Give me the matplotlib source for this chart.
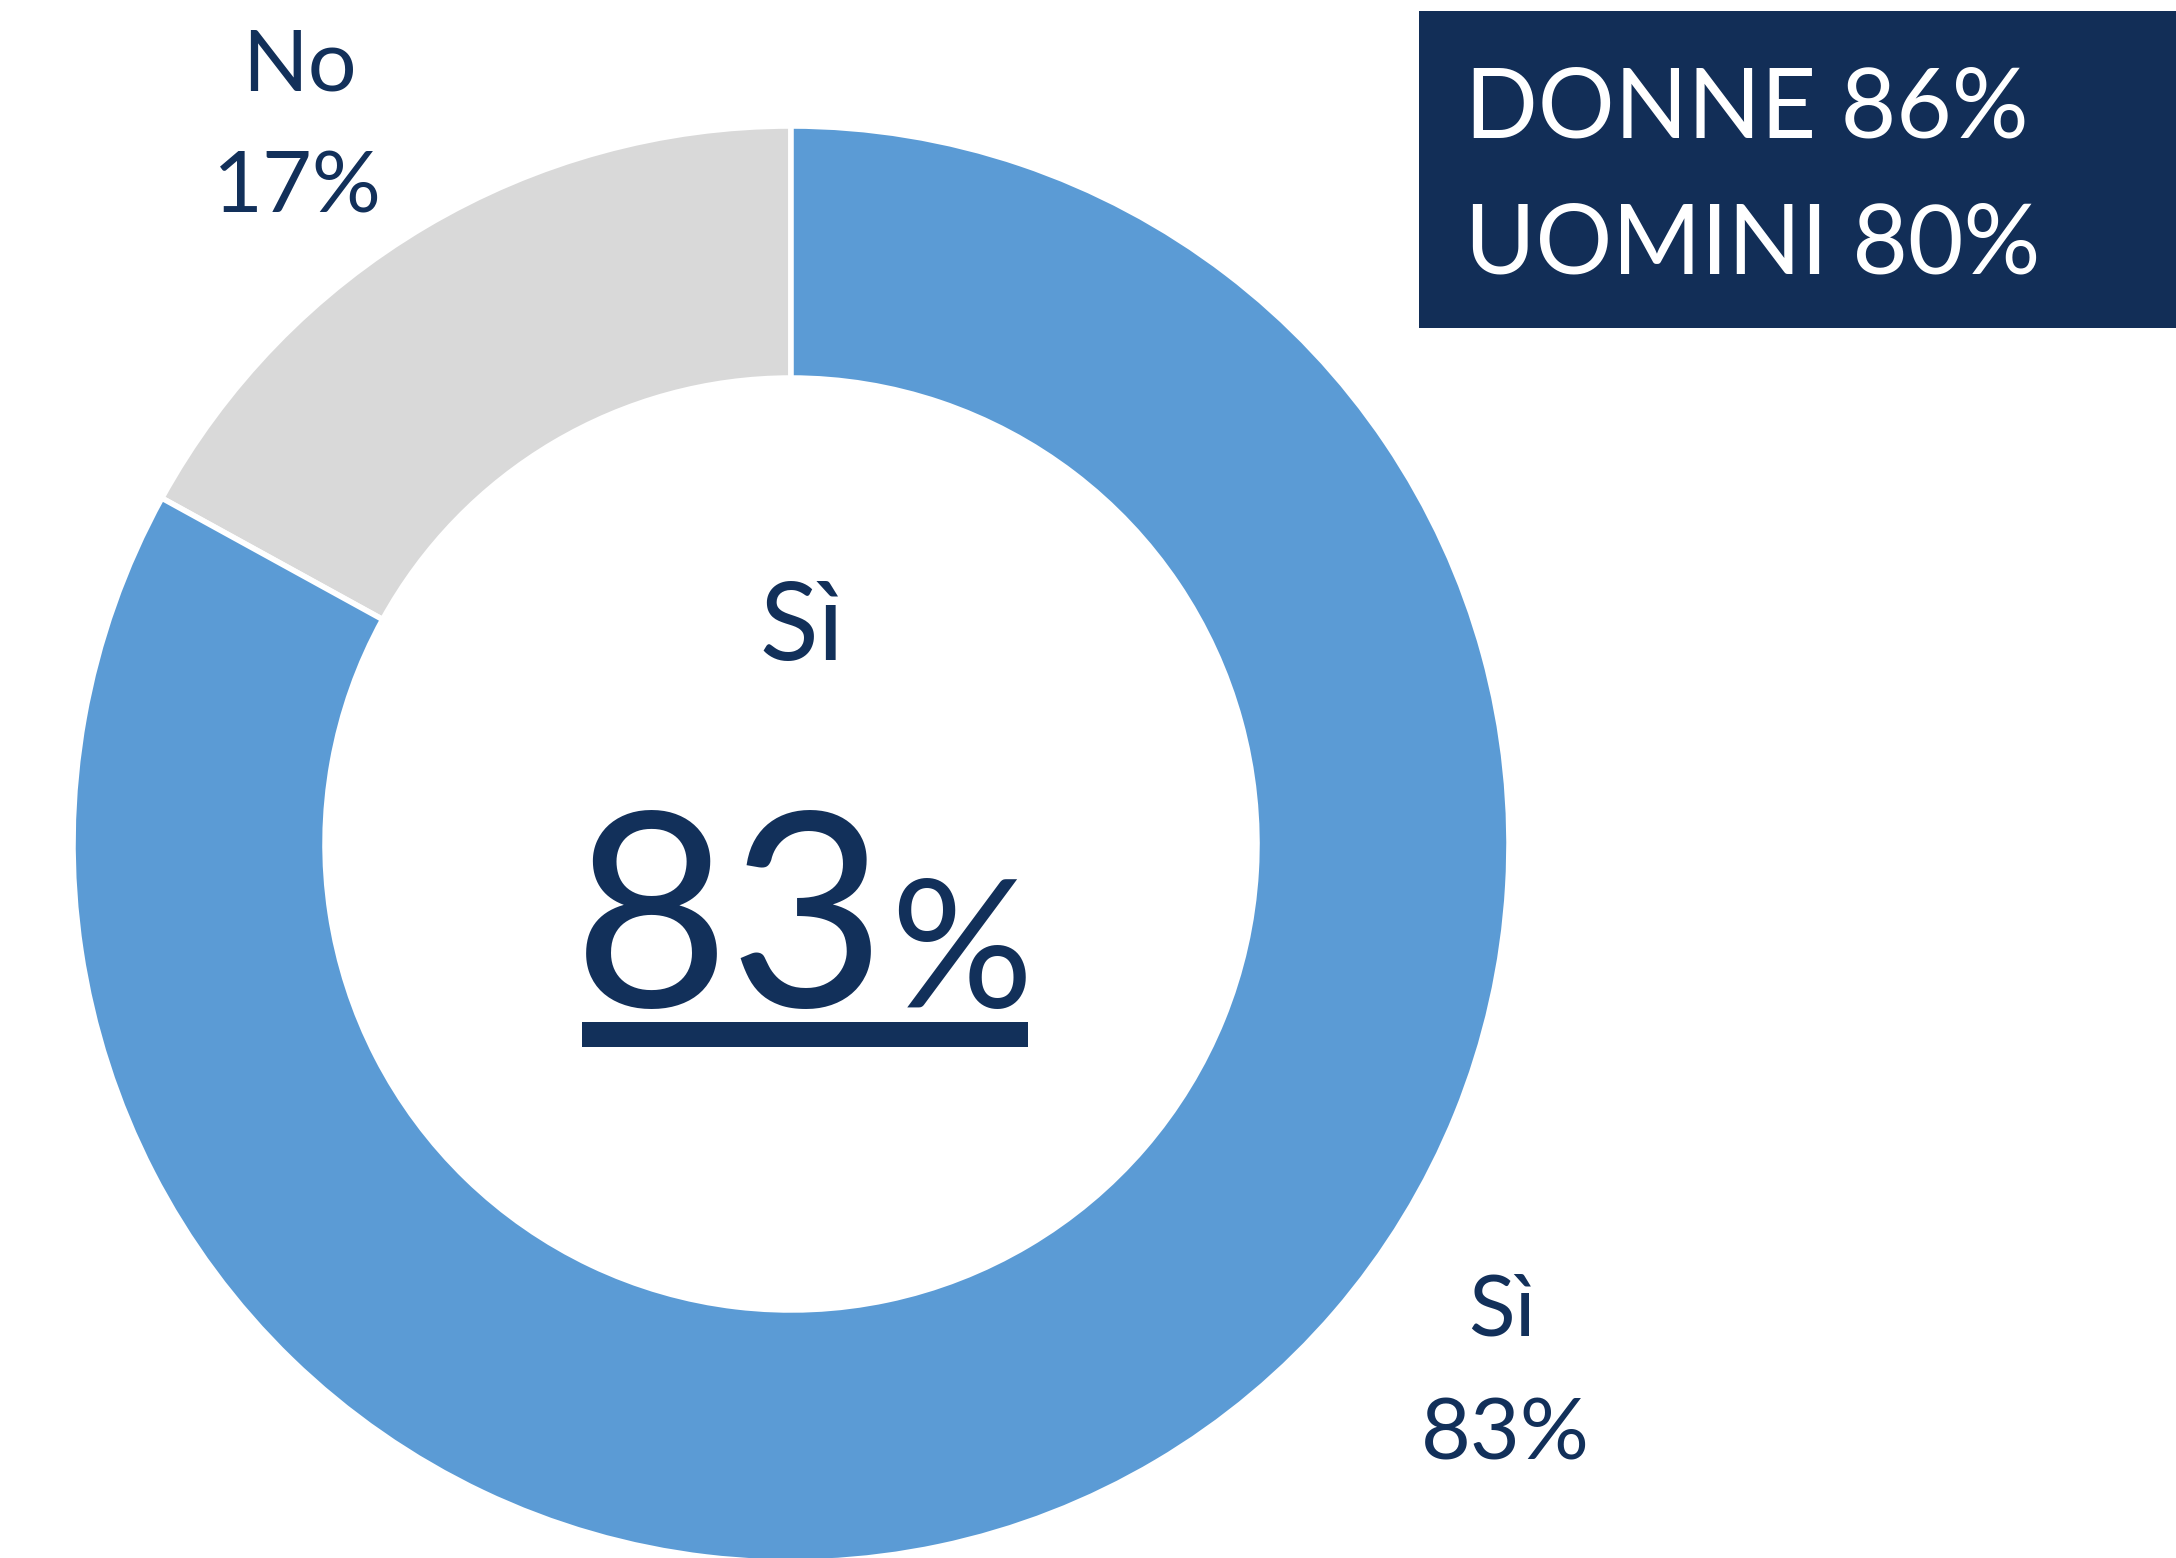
import matplotlib.pyplot as plt
from matplotlib.patches import Rectangle

# dati
labels = ["No", "Sì"]
values = [17, 83]
colori = ["#D9D9D9", "#5B9BD5"]
totale_si = 83
donne = 86
uomini = 80

W, H = 2176, 1558
navy = "#12305A"
plt.rcParams['font.family'] = ['Lato', 'DejaVu Sans']

fig = plt.figure(figsize=(W / 100, H / 100), dpi=100)
ax = fig.add_axes([0, 0, 1, 1])


def y(px):
    # coordinate in pixel dall'alto -> coordinate dati
    return H - px


# ciambella
R = 718
ax.pie(values, colors=colori, startangle=90, counterclock=True,
       center=(791, y(844)), radius=R,
       wedgeprops=dict(width=R * 0.351, edgecolor='white', linewidth=4))
ax.set_xlim(0, W)
ax.set_ylim(0, H)
ax.set_aspect('equal')
ax.axis('off')

# etichette delle fette
ax.text(299, y(90), labels[0], ha='center', va='baseline', fontsize=62, color=navy)
ax.text(297, y(212), f"{values[0]}%", ha='center', va='baseline', fontsize=62, color=navy)
ax.text(1502, y(1335), labels[1], ha='center', va='baseline', fontsize=62, color=navy)
ax.text(1505, y(1460), f"{values[1]}%", ha='center', va='baseline', fontsize=62, color=navy)

# testo centrale
ax.text(802, y(660), "Sì", ha='center', va='baseline', fontsize=78, color=navy)
ax.text(887, y(1007), f"{totale_si}", ha='right', va='baseline', fontsize=195, color=navy)
ax.text(890, y(1007), "%", ha='left', va='baseline', fontsize=128, color=navy)
ax.add_patch(Rectangle((582, y(1047)), 1028 - 582, 25, color=navy, lw=0))

# riquadro donne / uomini
ax.add_patch(Rectangle((1419, y(328)), W - 1419, 317, color="#122E57", lw=0))
ax.text(1465, y(137), f"DONNE {donne}%", ha='left', va='baseline', fontsize=69, color='white')
ax.text(1465, y(273), f"UOMINI {uomini}%", ha='left', va='baseline', fontsize=69, color='white')

fig.savefig("out.png", dpi=100)
